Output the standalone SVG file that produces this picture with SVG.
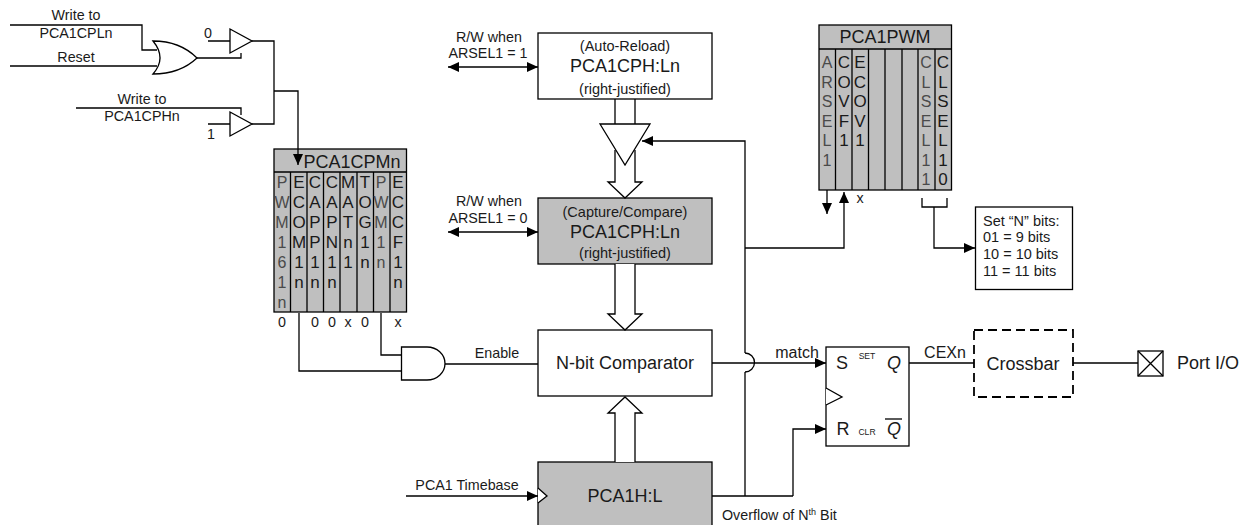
<svg xmlns="http://www.w3.org/2000/svg" width="1246" height="525" viewBox="0 0 1246 525">
<style>
text{font-family:"Liberation Sans",Arial,sans-serif;fill:#1a1a1a;text-anchor:middle}
.s{font-size:14.300px}.m{font-size:16px}.l{font-size:18px}.c{font-size:17px}.t{font-size:16px;fill:#4a4a4a}.p{font-size:14.500px}
.w{fill:none;stroke:#000;stroke-width:1.3}
.b{fill:#fff;stroke:#000;stroke-width:1.3}
.g{fill:#bfbfbf;stroke:#000;stroke-width:1.3}
.d{fill:none;stroke:#000;stroke-width:1.8;stroke-dasharray:9 5}
</style>
<defs>
<marker id="a" markerUnits="userSpaceOnUse" markerWidth="12" markerHeight="12" refX="11" refY="6" orient="auto-start-reverse"><path d="M0 1L11 6L0 11Z" fill="#000"/></marker>
</defs>
<g id="or-gate"><path class="b" d="M153 41Q180 41 197 58Q180 74 153 74Q167 58 153 41Z"/></g>
<g id="buffer-0"><path class="b" d="M230 29L252 41L230 53Z"/><text class="s" x="208" y="38">0</text></g>
<g id="buffer-1"><path class="b" d="M230 112L252 124L230 136Z"/><text class="s" x="211" y="139">1</text></g>
<g id="labels-in">
<text class="s" x="76" y="20">Write to</text><text class="s" x="76" y="38">PCA1CPLn</text><text class="s" x="76" y="62">Reset</text>
<text class="s" x="142" y="104">Write to</text><text class="s" x="142" y="121">PCA1CPHn</text>
</g>
<g id="pca1cpmn">
<rect class="g" x="274" y="149" width="132.500" height="163"/>
<path class="w" d="M274 172H406.500M290.500 172V312M307 172V312M323.500 172V312M340 172V312M357 172V312M373.500 172V312M390 172V312"/>
<text class="l" x="352" y="168">PCA1CPMn</text>
<text class="t"><tspan x="282" y="188">P</tspan><tspan x="282" y="208">W</tspan><tspan x="282" y="228">M</tspan><tspan x="282" y="248">1</tspan><tspan x="282" y="268">6</tspan><tspan x="282" y="288">1</tspan><tspan x="282" y="308">n</tspan></text>
<text class="c"><tspan x="299" y="188">E</tspan><tspan x="299" y="208">C</tspan><tspan x="299" y="228">O</tspan><tspan x="299" y="248">M</tspan><tspan x="299" y="268">1</tspan><tspan x="299" y="288">n</tspan></text>
<text class="c"><tspan x="315" y="188">C</tspan><tspan x="315" y="208">A</tspan><tspan x="315" y="228">P</tspan><tspan x="315" y="248">P</tspan><tspan x="315" y="268">1</tspan><tspan x="315" y="288">n</tspan></text>
<text class="c"><tspan x="332" y="188">C</tspan><tspan x="332" y="208">A</tspan><tspan x="332" y="228">P</tspan><tspan x="332" y="248">N</tspan><tspan x="332" y="268">1</tspan><tspan x="332" y="288">n</tspan></text>
<text class="c"><tspan x="348" y="188">M</tspan><tspan x="348" y="208">A</tspan><tspan x="348" y="228">T</tspan><tspan x="348" y="248">n</tspan><tspan x="348" y="268">1</tspan></text>
<text class="c"><tspan x="365" y="188">T</tspan><tspan x="365" y="208">O</tspan><tspan x="365" y="228">G</tspan><tspan x="365" y="248">1</tspan><tspan x="365" y="268">n</tspan></text>
<text class="t"><tspan x="381" y="188">P</tspan><tspan x="381" y="208">W</tspan><tspan x="381" y="228">M</tspan><tspan x="381" y="248">1</tspan><tspan x="381" y="268">n</tspan></text>
<text class="c"><tspan x="398" y="188">E</tspan><tspan x="398" y="208">C</tspan><tspan x="398" y="228">C</tspan><tspan x="398" y="248">F</tspan><tspan x="398" y="268">1</tspan><tspan x="398" y="288">n</tspan></text>
<text class="s" x="282" y="327">0</text><text class="s" x="315" y="327">0</text><text class="s" x="332" y="327">0</text><text class="s" x="348" y="327">x</text><text class="s" x="365" y="327">0</text><text class="s" x="398" y="327">x</text>
</g>
<g id="and-gate"><path class="b" d="M401.500 347H427A18 16.500 0 0 1 427 380H401.500Z"/><text class="s" x="497" y="358">Enable</text></g>
<g id="auto-reload">
<rect class="b" x="538" y="33" width="174" height="66"/>
<text class="p" x="625" y="51">(Auto-Reload)</text>
<text class="l" x="625" y="72">PCA1CPH:Ln</text>
<text class="p" x="625" y="94">(right-justified)</text>
<text class="s" x="489" y="42">R/W when</text><text class="s" x="488" y="58">ARSEL1 = 1</text>
</g>
<g id="capture-compare">
<rect class="g" x="538" y="198" width="174" height="66"/>
<text class="p" x="625" y="217">(Capture/Compare)</text>
<text class="l" x="625" y="238">PCA1CPH:Ln</text>
<text class="p" x="625" y="258">(right-justified)</text>
<text class="s" x="489" y="206">R/W when</text><text class="s" x="488" y="223">ARSEL1 = 0</text>
</g>
<g id="comparator"><rect class="b" x="538" y="330" width="174" height="66"/><text class="l" x="625" y="369">N-bit Comparator</text></g>
<g id="pca1hl">
<rect class="g" x="538" y="462" width="174" height="70"/>
<path class="b" d="M538 488L547 496L538 503"/>
<text class="l" x="625" y="502">PCA1H:L</text>
<text class="s" x="467" y="490">PCA1 Timebase</text>
</g>
<g id="pca1pwm">
<rect class="g" x="819" y="25" width="132.500" height="165"/>
<path class="w" d="M819 49H951.500M835.500 49V190M852 49V190M868.500 49V190M885 49V190M902 49V190M918 49V190M935 49V190"/>
<text class="l" x="885" y="43">PCA1PWM</text>
<text class="t"><tspan x="827" y="68">A</tspan><tspan x="827" y="88">R</tspan><tspan x="827" y="107">S</tspan><tspan x="827" y="127">E</tspan><tspan x="827" y="146">L</tspan><tspan x="827" y="166">1</tspan></text>
<text class="c"><tspan x="844" y="68">C</tspan><tspan x="844" y="88">O</tspan><tspan x="844" y="107">V</tspan><tspan x="844" y="127">F</tspan><tspan x="844" y="146">1</tspan></text>
<text class="c"><tspan x="860" y="68">E</tspan><tspan x="860" y="88">C</tspan><tspan x="860" y="107">O</tspan><tspan x="860" y="127">V</tspan><tspan x="860" y="146">1</tspan></text>
<text class="t"><tspan x="926" y="68">C</tspan><tspan x="926" y="88">L</tspan><tspan x="926" y="107">S</tspan><tspan x="926" y="127">E</tspan><tspan x="926" y="146">L</tspan><tspan x="926" y="166">1</tspan><tspan x="926" y="185">1</tspan></text>
<text class="c"><tspan x="943" y="68">C</tspan><tspan x="943" y="88">L</tspan><tspan x="943" y="107">S</tspan><tspan x="943" y="127">E</tspan><tspan x="943" y="146">L</tspan><tspan x="943" y="166">1</tspan><tspan x="943" y="185">0</tspan></text>
<text class="s" x="860" y="203">x</text>
</g>
<g id="n-bits">
<rect class="b" x="975.500" y="207" width="97" height="82.500"/>
<text class="p" style="text-anchor:start" x="983" y="226">Set “N” bits:</text>
<text class="p" style="text-anchor:start" x="983" y="242">01 = 9 bits</text>
<text class="p" style="text-anchor:start" x="983" y="259">10 = 10 bits</text>
<text class="p" style="text-anchor:start" x="983" y="276">11 = 11 bits</text>
</g>
<g id="flip-flop">
<rect class="b" x="826" y="347" width="83" height="99"/>
<path class="b" d="M826 388L842 397L826 405"/>
<text class="l" x="842" y="369">S</text><text class="l" x="843" y="435">R</text>
<text x="867" y="359" style="font-size:8.600px">SET</text><text x="867" y="435" style="font-size:8.600px">CLR</text>
<text class="l" x="894" y="369" style="font-style:italic">Q</text><text class="l" x="894" y="435" style="font-style:italic">Q</text>
<path class="w" d="M885 419H902"/>
<text class="m" x="797" y="358">match</text><text class="m" x="945" y="358">CEXn</text>
</g>
<g id="crossbar"><rect class="d" x="974" y="330" width="99" height="67"/><text class="l" x="1023" y="370">Crossbar</text></g>
<g id="port-io">
<rect class="b" x="1138" y="351" width="25" height="25"/><path class="w" d="M1138 351L1163 376M1163 351L1138 376"/>
<text class="l" x="1208" y="369">Port I/O</text>
</g>
<g id="overflow"><text class="s" style="text-anchor:start" x="722" y="520">Overflow of N<tspan dy="-5" style="font-size:9px">th</tspan><tspan dy="5"> Bit</tspan></text></g>
<g id="connectors">
<path class="w" d="M10 25H142V50H157M10 66H157"/>
<path class="w" d="M197 58H241V53M208 41H230M252 41H274V124H252"/>
<path class="w" marker-end="url(#a)" d="M274 91H298V165"/>
<path class="w" d="M76 108H241V115M208 124H230"/>
<path class="w" d="M299 313V371H401M381 313V355H401M445 364H538"/>
<path class="w" marker-start="url(#a)" marker-end="url(#a)" d="M448 67H538"/>
<path class="w" marker-start="url(#a)" marker-end="url(#a)" d="M448 232H538"/>
<path class="w" d="M615 99V130M635 99V130"/>
<path class="b" d="M615 150V182H608L625 198L642 182H635V150"/>
<path class="b" d="M615 264V314H608L625 330L642 314H635V264"/>
<path class="b" d="M615 462V413H608L625 397L642 413H635V462"/>
<path class="b" d="M600 124H650L625 165Z"/>
<path class="w" marker-end="url(#a)" d="M745 353V141H642"/>
<path class="w" d="M745 372V496M712 496H793"/>
<path class="w" d="M745 353A9.500 9.500 0 0 1 745 372"/>
<path class="w" marker-end="url(#a)" d="M745 248H844V192"/>
<path class="w" marker-end="url(#a)" d="M712 363H826"/>
<path class="w" marker-end="url(#a)" d="M793 496V429H826"/>
<path class="w" marker-end="url(#a)" d="M406 496H538"/>
<path class="w" marker-end="url(#a)" d="M827 190V214"/>
<path class="w" d="M922 198V207H947V198"/>
<path class="w" marker-end="url(#a)" d="M934 207V248H975"/>
<path class="w" d="M909 363H974M1073 363H1138"/>
</g>
</svg>
